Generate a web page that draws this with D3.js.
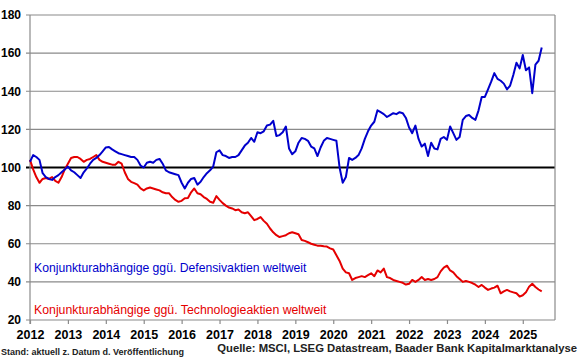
<!DOCTYPE html>
<html><head><meta charset="utf-8">
<script src="https://cdn.jsdelivr.net/npm/d3@7"></script>
<style>
html,body{margin:0;padding:0;background:#fff;}
svg{display:block;font-family:"Liberation Sans",Arial,sans-serif;}
</style></head>
<body><svg id="c" width="580" height="359"></svg>
<script>
// Monthly observations, first value = January 2012
const startYear = 2012;
const yearTicks = [2012,2013,2014,2015,2016,2017,2018,2019,2020,2021,2022,2023,2024,2025];
const yTicks = [20,40,60,80,100,120,140,160,180];
const seriesNames = ["Konjunkturabhängige ggü. Defensivaktien weltweit","Konjunkturabhängige ggü. Technologieaktien weltweit"];
const defensiv = [
103,106.5,105.5,104,97,95,94,93.5,95,96,97.5,99,
100.5,98.5,97.5,96,94.5,97.5,99.5,102,104,105,106.5,108.5,
110.5,110.8,109.5,108.5,107.5,107,106.5,106,105.5,105.5,104,101,
100,102.5,103,102.5,104,104.5,102,98.5,97.5,97,96.5,96,
92,89,92,94,94.5,91,92.5,95,97,98.5,100.5,108,
109,106.5,106,105,105.5,105.5,106.5,109,111.5,113,115.5,113.5,
118.5,118,119,122,122.5,124.5,116.5,117,118.5,121.5,110,107,
108.5,113,115.5,115,114,111,110,106,110.5,114,115.5,115,
114.5,114,100,92,95,105,104,105,106.5,110,115,119,
122,124,130,129,128,126.5,127.5,128.5,128,129,128.5,126,
121,118,122,115,111,112.5,106,113,110,109.5,115,116,
114.5,121.5,118,114.5,116,125,127,127.5,126,125,130,137,
137,141,145,149.5,146.5,145.5,144,141,143,148.5,155,152,
159,151,152.5,139,154,156,163];
const technologie = [
104,99,95,92,94,94.5,94,95,93,92,95,99,
102,105,105.5,105.5,104.5,103,104,104.5,105.5,106.5,104,103,
102.5,102,101.5,101.5,103,102,97.5,94,92.5,91.8,91,89,
88,89,89.5,89,88.5,88,87,86.5,86.5,84.5,83,82,
82.5,83.9,84,87,89,86.5,86,84.5,83.5,82,81.5,85,
83,81.3,80,79,78.5,77.6,78,76.5,76,76.5,74.5,72.4,
73,74,72,70.5,68,66,64.5,63.5,64,64.5,65.5,66,
65.5,65,62,61.5,60.8,60,59.5,59,59,58.7,58.5,57.6,
57,54,51,47,45,44.5,41,42,42.5,43,42.5,43.5,
44.5,43,46,45,47,42.5,42,41,40.5,40,39.5,38.6,
39,41,40,41,42.5,41,41.5,41,41.5,42.5,45.5,47.5,
48.5,46,45,43,41.5,40,40.5,40,39.4,38.5,37.3,38.4,
37,35.8,36.5,37,38,34,35,35.8,35,34.5,34,32.3,
33,34.5,37.5,39,37.3,36,35];
const footLeft = "Stand: aktuell z. Datum d. Veröffentlichung";
const footRight = "Quelle: MSCI, LSEG Datastream, Baader Bank Kapitalmarktanalyse";

const svg = d3.select("#c");
const L=30,R=555,T=15,B=320;
const x = d3.scaleLinear().domain([2012,2025.85]).range([L,R]);
const y = d3.scaleLinear().domain([20,180]).range([B,T]);
const font = '"Liberation Sans",Arial,sans-serif';

// gridlines
svg.append("g").selectAll("line").data(yTicks).join("line")
  .attr("x1",L-4).attr("x2",R).attr("y1",d=>y(d)).attr("y2",d=>y(d))
  .attr("stroke",d=>d===100?"#000":"#8a8a8a").attr("stroke-width",d=>d===100?2:1.2);
// left axis & right border
svg.append("line").attr("x1",L).attr("x2",L).attr("y1",T).attr("y2",B+4).attr("stroke","#8a8a8a").attr("stroke-width",1.2);
svg.append("line").attr("x1",R).attr("x2",R).attr("y1",T).attr("y2",B).attr("stroke","#8a8a8a").attr("stroke-width",1.2);

// y axis labels
const yAx = d3.axisLeft(y).tickValues(yTicks).tickSize(0).tickPadding(9).tickFormat(d3.format("d"));
const gy = svg.append("g").attr("transform",`translate(${L},0)`).call(yAx);
gy.select(".domain").remove();
gy.selectAll("text").attr("font-family",font).attr("font-size",12).attr("font-weight","bold").attr("fill","#000");

// x axis
const xAx = d3.axisBottom(x).tickValues(yearTicks).tickSize(4).tickPadding(6).tickFormat(d3.format("d"));
const gx = svg.append("g").attr("transform",`translate(0,${B})`).call(xAx);
gx.select(".domain").remove();
gx.selectAll("line").attr("stroke","#8a8a8a").attr("stroke-width",1.2);
gx.selectAll("text").attr("font-family",font).attr("font-size",12.5).attr("font-weight","bold").attr("fill","#000");

const line = d3.line().x((d,i)=>x(startYear+i/12)).y(d=>y(d)).curve(d3.curveLinear);
svg.append("path").datum(technologie).attr("d",line).attr("fill","none").attr("stroke","#e50000").attr("stroke-width",2).attr("stroke-linejoin","round");
svg.append("path").datum(defensiv).attr("d",line).attr("fill","none").attr("stroke","#0000cc").attr("stroke-width",2).attr("stroke-linejoin","round");

// legend labels
svg.append("text").attr("x",34).attr("y",272).attr("font-family",font).attr("font-size",12.2).attr("fill","#0000cc").text(seriesNames[0]);
svg.append("text").attr("x",34).attr("y",314).attr("font-family",font).attr("font-size",12.3).attr("fill","#e50000").text(seriesNames[1]);

// footer
svg.append("text").attr("x",1).attr("y",355).attr("font-family",font).attr("font-size",9).attr("font-weight","bold").attr("fill","#222").text(footLeft);
svg.append("text").attr("x",577).attr("y",352).attr("text-anchor","end").attr("font-family",font).attr("font-size",11.3).attr("font-weight","bold").attr("fill","#222").text(footRight);
</script></body></html>
